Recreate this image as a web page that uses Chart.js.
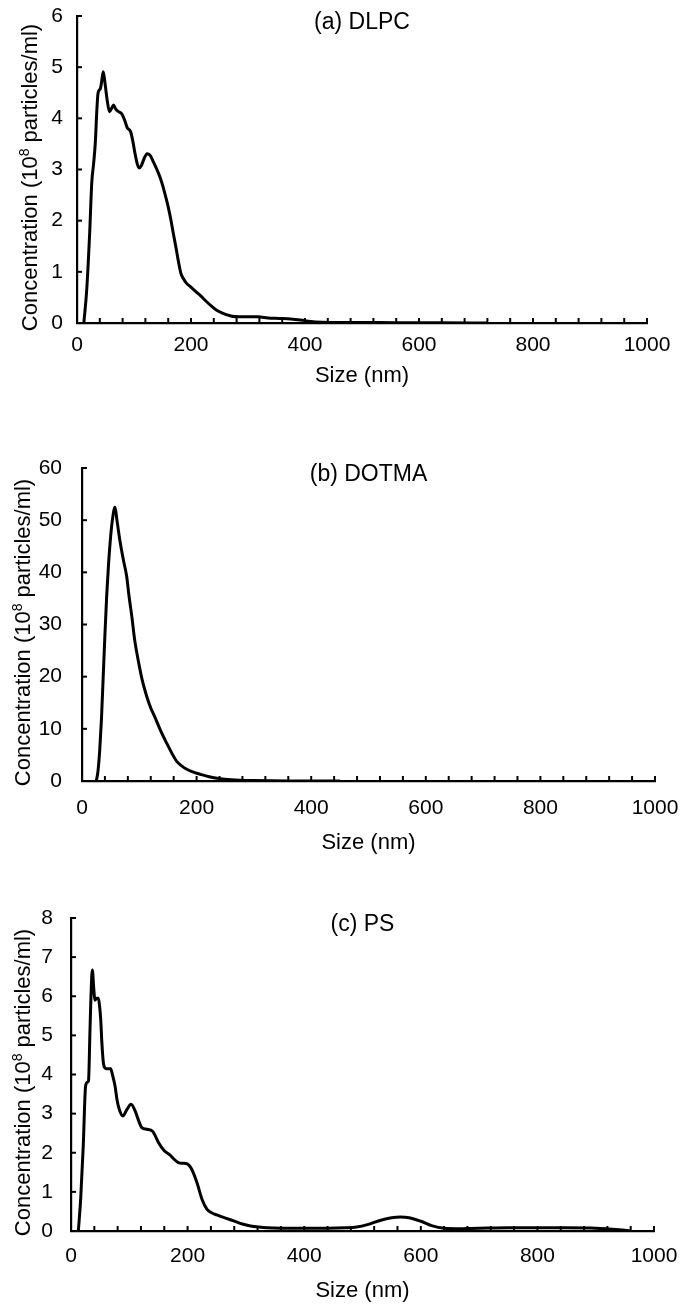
<!DOCTYPE html>
<html><head><meta charset="utf-8">
<script src="https://cdn.jsdelivr.net/npm/chart.js@4.4.1/dist/chart.umd.min.js"></script>
<style>
html,body{margin:0;padding:0;background:#fff;}
body{width:682px;height:1307px;position:relative;overflow:hidden;}
canvas{position:absolute;left:0;}
</style></head><body>
<canvas id="ca"></canvas>
<canvas id="cb"></canvas>
<canvas id="cc"></canvas>
<script>
// ---------- data ----------
const panelTitles = ["(a) DLPC", "(b) DOTMA", "(c) PS"];
const xTitle = "Size (nm)";
const xTickLabels = [0, 200, 400, 600, 800, 1000];

const dlpcSize = [12,17,22,26,29,32,35,37,41,43,46,49,53,57,61,64,68,73,79,84,88,94,98,102,106,109,113,118,123,128,134,141,146,151,156,160,165,169,174,178,182,186,192,200,210,218,227,236,245,254,263,272,285,300,318,335,355,375,392,410,430,460,500,560,640,720];
const dlpcConc = [0,0.64,1.7,2.76,3.1,3.5,4.2,4.5,4.58,4.7,4.91,4.7,4.35,4.13,4.2,4.26,4.18,4.13,4.08,3.95,3.82,3.74,3.55,3.3,3.1,3.03,3.08,3.22,3.31,3.28,3.15,2.98,2.84,2.66,2.45,2.27,2.0,1.75,1.45,1.2,0.98,0.88,0.78,0.7,0.6,0.52,0.42,0.33,0.25,0.2,0.16,0.13,0.12,0.12,0.12,0.1,0.09,0.08,0.06,0.03,0.015,0.01,0.01,0.005,0.005,0];

const dotmaSize = [25,28,31,34,37,40,43,46,49,53,57.6,61,66,72,78,82,87,92,98,105,113,120,127,137,148,157,165,174,182,192,206,222,241,260,276,300,330,370,450];
const dotmaConc = [0,2,6,12,20,28,35.3,41,45.6,50,52.5,50,46.2,42.5,39.2,35.5,31.5,27,23.2,19.4,16.2,14,12.3,9.7,7.2,5.3,3.8,2.9,2.3,1.8,1.3,0.8,0.45,0.25,0.15,0.08,0.03,0.01,0];

const psSize = [12.6,16.6,21,25,28,30,32.6,34.5,36.6,39,41,44,47,49,51,53,55.5,58,61,65,68,71,75.6,79,83,89,95.7,103,110,116,121.5,130,140,145,150,160,170,177,184,192,199,207,216,224.5,233,242,250,265,279,294,308,322,336,360,400,440,470,490,510,530,550,565,580,600,620,640,660,700,750,800,850,900,940,960];
const psConc = [0,0.82,2.17,3.7,3.8,3.83,5.15,6.1,6.67,6.2,5.9,5.95,5.95,5.75,5.4,4.8,4.3,4.17,4.15,4.15,4.15,4.0,3.7,3.35,3.1,2.94,3.1,3.24,3.07,2.82,2.64,2.6,2.55,2.42,2.26,2.05,1.94,1.83,1.75,1.73,1.72,1.58,1.24,0.82,0.56,0.46,0.41,0.33,0.26,0.18,0.13,0.1,0.08,0.07,0.07,0.07,0.08,0.1,0.17,0.27,0.34,0.36,0.34,0.25,0.13,0.07,0.06,0.07,0.08,0.08,0.08,0.07,0.03,0];

const yMaxes = [6, 60, 8];
const ySteps = [1, 10, 1];

// ---------- layout (page geometry) ----------
const FONT = '"Liberation Sans", Arial, Helvetica, sans-serif';
const panels = [
  {id:'ca', top:0,   h:400, L:77, R:647, T:16, B:323, yPad:14, xPad:10, xTitleY:376, yTitleX:29, size:dlpcSize,  conc:dlpcConc},
  {id:'cb', top:400, h:460, L:82, R:655, T:68, B:381, yPad:20, xPad:15, xTitleY:443, yTitleX:22, size:dotmaSize, conc:dotmaConc},
  {id:'cc', top:860, h:447, L:71, R:654, T:58, B:371, yPad:18, xPad:13, xTitleY:431, yTitleX:22, size:psSize,    conc:psConc}
];

function noPad(s) { s.paddingLeft = 0; s.paddingRight = 0; s.paddingTop = 0; s.paddingBottom = 0; }

const decorPlugin = {
  id: 'decor',
  afterDraw(chart, args, opts) {
    const ctx = chart.ctx;
    const area = chart.chartArea;
    const xs = chart.scales.x, ys = chart.scales.y;
    ctx.save();
    // inward tick marks, placed by the library's scales
    ctx.strokeStyle = '#000';
    ctx.lineWidth = 2;
    xs.ticks.forEach(t => {
      if (t.value === 0) return;
      const px = xs.getPixelForValue(t.value);
      ctx.beginPath(); ctx.moveTo(px, area.bottom); ctx.lineTo(px, area.bottom - 5); ctx.stroke();
    });
    ys.ticks.forEach(t => {
      if (t.value === 0) return;
      const py = ys.getPixelForValue(t.value);
      ctx.beginPath(); ctx.moveTo(area.left, py); ctx.lineTo(area.left + 5, py); ctx.stroke();
    });
    // panel title inside the plot area
    ctx.fillStyle = '#000';
    ctx.font = '23px ' + FONT;
    ctx.textAlign = 'center';
    ctx.textBaseline = 'middle';
    ctx.fillText(opts.title, (area.left + area.right) / 2, area.top + 7);
    // y axis title with superscript
    const main = 22, sup = 14;
    const p1 = 'Concentration (10', p2 = '8', p3 = ' particles/ml)';
    ctx.font = main + 'px ' + FONT;
    const w1 = ctx.measureText(p1).width, w3 = ctx.measureText(p3).width;
    ctx.font = sup + 'px ' + FONT;
    const w2 = ctx.measureText(p2).width;
    const total = w1 + w2 + w3;
    const cy = (area.top + area.bottom) / 2 + 8;
    ctx.translate(opts.yTitleX, cy);
    ctx.rotate(-Math.PI / 2);
    ctx.textAlign = 'left';
    ctx.textBaseline = 'alphabetic';
    const base = 8;
    let x = -total / 2;
    ctx.font = main + 'px ' + FONT;
    ctx.fillText(p1, x, base); x += w1;
    ctx.font = sup + 'px ' + FONT;
    ctx.fillText(p2, x, base - 8); x += w2;
    ctx.font = main + 'px ' + FONT;
    ctx.fillText(p3, x, base);
    ctx.restore();
  }
};

panels.forEach((p, i) => {
  const cv = document.getElementById(p.id);
  cv.width = 682; cv.height = p.h;
  cv.style.width = '682px'; cv.style.height = p.h + 'px';
  cv.style.top = p.top + 'px';
  const points = p.size.map((s, k) => ({x: s, y: p.conc[k]}));
  new Chart(cv, {
    type: 'line',
    data: { datasets: [{
      data: points,
      borderColor: '#000',
      borderWidth: 3,
      pointRadius: 0,
      fill: false,
      tension: 0.4,
      cubicInterpolationMode: 'monotone'
    }]},
    options: {
      responsive: false,
      animation: false,
      devicePixelRatio: 1,
      layout: { padding: { left: 0, top: p.T, right: 682 - p.R, bottom: 0 } },
      plugins: {
        legend: { display: false },
        tooltip: { enabled: false },
        decor: { title: panelTitles[i], yTitleX: p.yTitleX }
      },
      scales: {
        x: {
          type: 'linear', min: 0, max: 1000,
          grid: { display: false, drawTicks: false, tickLength: 0 },
          border: { display: true, color: '#000', width: 2.2 },
          ticks: {
            stepSize: 40, autoSkip: false, maxRotation: 0, color: '#000',
            padding: p.xPad,
            font: { family: FONT, size: 21 },
            callback: v => xTickLabels.includes(v) ? String(v) : ''
          },
          title: {
            display: true, text: xTitle, color: '#000',
            font: { family: FONT, size: 22 },
            padding: { top: 0, bottom: p.h - p.xTitleY - 13.2 }
          },
          afterFit: s => { s.height = p.h - p.B; noPad(s); }
        },
        y: {
          type: 'linear', min: 0, max: yMaxes[i],
          grid: { display: false, drawTicks: false, tickLength: 0 },
          border: { display: true, color: '#000', width: 2.2 },
          ticks: {
            stepSize: ySteps[i], color: '#000', padding: p.yPad,
            font: { family: FONT, size: 21 }
          },
          afterFit: s => { s.width = p.L; noPad(s); }
        }
      }
    },
    plugins: [decorPlugin]
  });
});
</script>
</body></html>
